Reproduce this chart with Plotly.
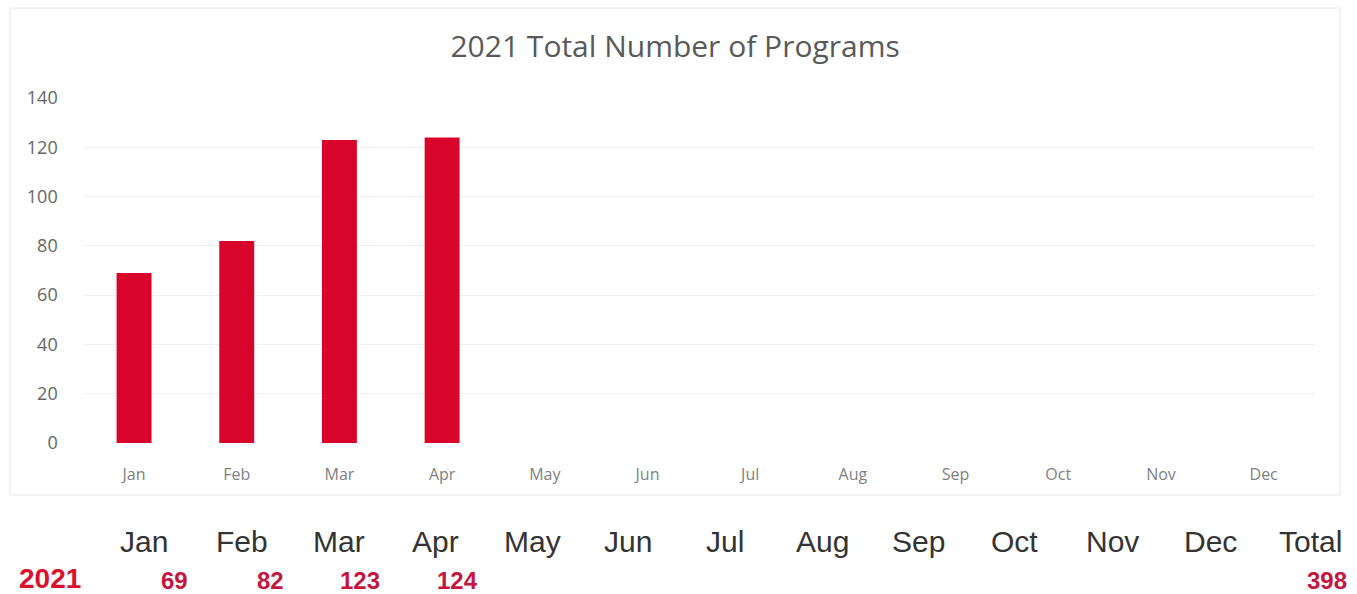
import plotly.graph_objects as go

months = ["Jan", "Feb", "Mar", "Apr", "May", "Jun", "Jul", "Aug", "Sep", "Oct", "Nov", "Dec"]
programs = [69, 82, 123, 124, None, None, None, None, None, None, None, None]
table_headers = months + ["Total"]
table_values = ["69", "82", "123", "124", "", "", "", "", "", "", "", "", "398"]
row_label = "2021"
y_ticks = [0, 20, 40, 60, 80, 100, 120, 140]

W, H = 1357, 594
red = "#d9042b"

fig = go.Figure()
fig.add_trace(go.Bar(x=months, y=programs, marker=dict(color=red, line=dict(width=0)), width=0.34))

fig.update_layout(
    width=W, height=H,
    margin=dict(l=0, r=0, t=0, b=0, autoexpand=False),
    paper_bgcolor="white", plot_bgcolor="white",
    showlegend=False,
    title=dict(text="2021 Total Number of Programs", x=0.4975, xanchor="center",
               y=1 - 46 / H, yanchor="middle", automargin=False,
               font=dict(family="Open Sans", size=30, color="#595959")),
    xaxis=dict(domain=[82.7 / W, 1315 / W], tickfont=dict(family="Open Sans", size=16, color="#7f7f7f"),
               showgrid=False, showline=False, ticklabelstandoff=20, fixedrange=True, automargin=False),
    yaxis=dict(domain=[1 - 443 / H, 1 - 98 / H], range=[0, 140], tickvals=y_ticks,
               tickfont=dict(family="Open Sans", size=18, color="#666666"),
               gridcolor="#efefef", gridwidth=1, zeroline=False, showline=False, ticklabelstandoff=24,
               automargin=False),
)

# outer frame of the chart
fig.add_shape(type="rect", xref="paper", yref="paper", x0=10 / W, x1=1340 / W, y0=1 - 495 / H, y1=1 - 8 / H,
              line=dict(color="#e6e6e6", width=1), fillcolor="rgba(0,0,0,0)")

header_x = [144, 242, 339, 436, 532, 628, 725, 822, 918, 1015, 1112, 1210, 1310]
value_x = [174, 270, 360, 457, 0, 0, 0, 0, 0, 0, 0, 0, 1327]
for hx, h in zip(header_x, table_headers):
    fig.add_annotation(text=h, x=hx / W, y=1 - 541 / H, xref="paper", yref="paper", showarrow=False,
                       xanchor="center", yanchor="middle",
                       font=dict(family="Liberation Sans", size=30, color="#333333"))
for vx, v in zip(value_x, table_values):
    if v:
        fig.add_annotation(text="<b>" + v + "</b>", x=vx / W, y=1 - 580 / H, xref="paper", yref="paper",
                           showarrow=False, xanchor="center", yanchor="middle",
                           font=dict(family="Liberation Sans", size=24, color="#c4163f"))
fig.add_annotation(text="<b>" + row_label + "</b>", x=50 / W, y=1 - 578 / H, xref="paper", yref="paper",
                   showarrow=False, xanchor="center", yanchor="middle",
                   font=dict(family="Liberation Sans", size=28, color="#d9112e"))

fig.write_html("out.html")
